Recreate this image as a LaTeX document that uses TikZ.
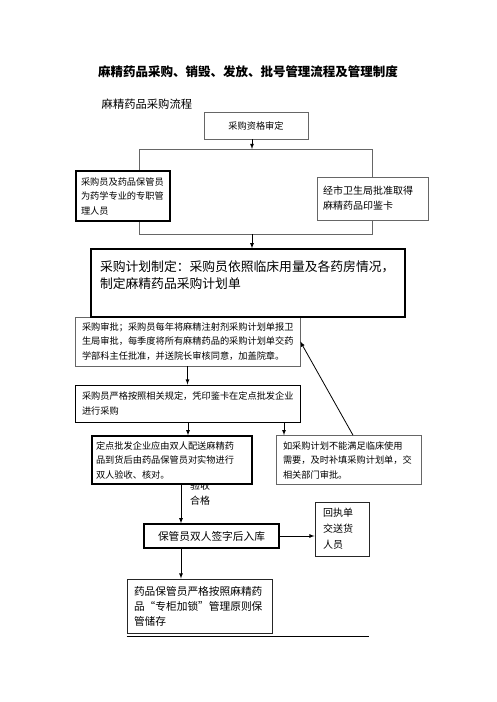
\documentclass[tikz,border=0pt]{standalone}
\usepackage{fontspec}
\setmainfont{Noto Sans CJK SC}
\usetikzlibrary{backgrounds}
\tikzset{
box/.style     = {draw=black!60, line width=0.6pt, fill=white, align=left,
                  inner xsep=7pt, inner ysep=0pt},
boldbox/.style = {box, draw=black, line width=1.3pt},
midbox/.style  = {box, draw=black!85, line width=0.9pt},
small/.style   = {font=\fontsize{9.2}{14.5}\selectfont},
loop/.style    = {draw=black!60, line width=0.6pt},
tmp/.style     = {coordinate}
}

\begin{document}
\begin{tikzpicture}[x=1pt, y=-1pt, >=latex, node distance=60pt, line width=0.8pt]
    \useasboundingbox (0,0) rectangle (496,702);

    \node [font=\fontsize{12.5}{15}\selectfont\bfseries] (title) at (248,72)
    {麻精药品采购、销毁、发放、批号管理流程及管理制度};
    \node [anchor=west, font=\fontsize{11.3}{14}\selectfont] (sub) at (98,104)
    {麻精药品采购流程};

    \node [box, small, align=center, text width=90pt, minimum height=27pt] (aq)
    at (256,125.5) {采购资格审定};

    % two conditions, joined in a loop
    \node [tmp] (lpa) at (139,149) {};
    \node [tmp] (lpb) at (372,234) {};
    \draw [loop] (lpa) rectangle (lpb);

    \node [boldbox, small, below of=aq, node distance=70.5pt, xshift=-133pt,
    inner xsep=5pt, text width=84pt, minimum height=50pt] (staff)
    {采购员及药品保管员\\为药学专业的专职管\\理人员};
    \node [box, below of=aq, node distance=73pt, xshift=116.5pt,
    font=\fontsize{10}{15}\selectfont, inner xsep=6pt, text width=99pt,
    minimum height=43pt] (card)
    {经市卫生局批准取得\\麻精药品印鉴卡};

    \draw [->] ([xshift=-4pt]aq.south) -- ([xshift=-4pt]aq.south |- lpa);

    \node [boldbox, below of=aq, node distance=157.5pt, xshift=-8pt,
    font=\fontsize{12.8}{17}\selectfont, inner xsep=9pt, text width=296pt,
    text depth=33pt, minimum height=68pt] (plan)
    {采购计划制定：采购员依照临床用量及各药房情况，\\制定麻精药品采购计划单};
    \draw [->] ([xshift=4pt]plan.north |- lpb) -- ([xshift=4pt]plan.north);

    \begin{scope}[on background layer]
    \node [box, small, below of=plan, node distance=58.5pt, xshift=-60.5pt,
    text width=211pt, minimum height=49pt] (approve)
    {采购审批；采购员每年将麻精注射剂采购计划单报卫\\生局审批，每季度将所有麻精药品的采购计划单交药\\学部科主任批准，并送院长审核同意，加盖院章。};
    \end{scope}

    \node [boldbox, small, below of=approve, node distance=62pt,
    text width=211pt, minimum height=37pt, line width=1pt] (buy)
    {采购员严格按照相关规定，凭印鉴卡在定点批发企业\\进行采购};
    \draw [->] (approve) -- (buy);

    \node [boldbox, small, below of=buy, node distance=56.5pt, xshift=-15.5pt,
    inner xsep=4pt, text width=152pt, minimum height=48pt] (deliver)
    {定点批发企业应由双人配送麻精药\\品到货后由药品保管员对实物进行\\双人验收、核对。};
    \node [box, small, right of=deliver, node distance=176.5pt,
    text width=131pt, minimum height=49pt] (extra)
    {如采购计划不能满足临床使用\\需要，及时补填采购计划单，交\\相关部门审批。};

    \draw [->] ([xshift=16pt]deliver.north |- buy.south) -- ([xshift=16pt]deliver.north);
    \draw [->] ([xshift=-64.5pt]extra.north |- buy.south) -- ([xshift=-64.5pt]extra.north);
    \draw [->] ([xshift=4.5pt]extra.north) -- (approve.east);

    \begin{scope}[on background layer]
    \node [below of=deliver, node distance=33.5pt, xshift=28pt, align=center,
    font=\fontsize{10}{15}\selectfont] (ok) {验收\\合格};
    \end{scope}

    \node [boldbox, below of=deliver, node distance=76pt, xshift=39.5pt,
    font=\fontsize{10.7}{14}\selectfont, align=center, text width=121pt,
    minimum height=24pt] (store) {保管员双人签字后入库};
    \draw [->] ([xshift=9pt]deliver.south) -- ([xshift=9pt]deliver.south |- store.north);

    \node [midbox, right of=store, node distance=130.5pt, yshift=7pt,
    font=\fontsize{10}{16}\selectfont, inner xsep=8pt, text width=38pt,
    minimum height=54pt] (receipt) {回执单\\交送货\\人员};
    \draw [->] (store.east) -- (receipt.west |- store.east);

    \node [midbox, below of=store, node distance=70pt, xshift=-12pt,
    font=\fontsize{10.7}{15}\selectfont, text width=131pt,
    minimum height=54pt] (keep)
    {药品保管员严格按照麻精药\\品“专柜加锁”管理原则保\\管储存};
    \draw [->] ([xshift=-30.5pt]store.south) -- ([xshift=-30.5pt]store.south |- keep.north);

    \draw [line width=1pt] ([yshift=-3pt]keep.south west) -- ([yshift=-3pt]keep.south west -| receipt.east);
\end{tikzpicture}
\end{document}
